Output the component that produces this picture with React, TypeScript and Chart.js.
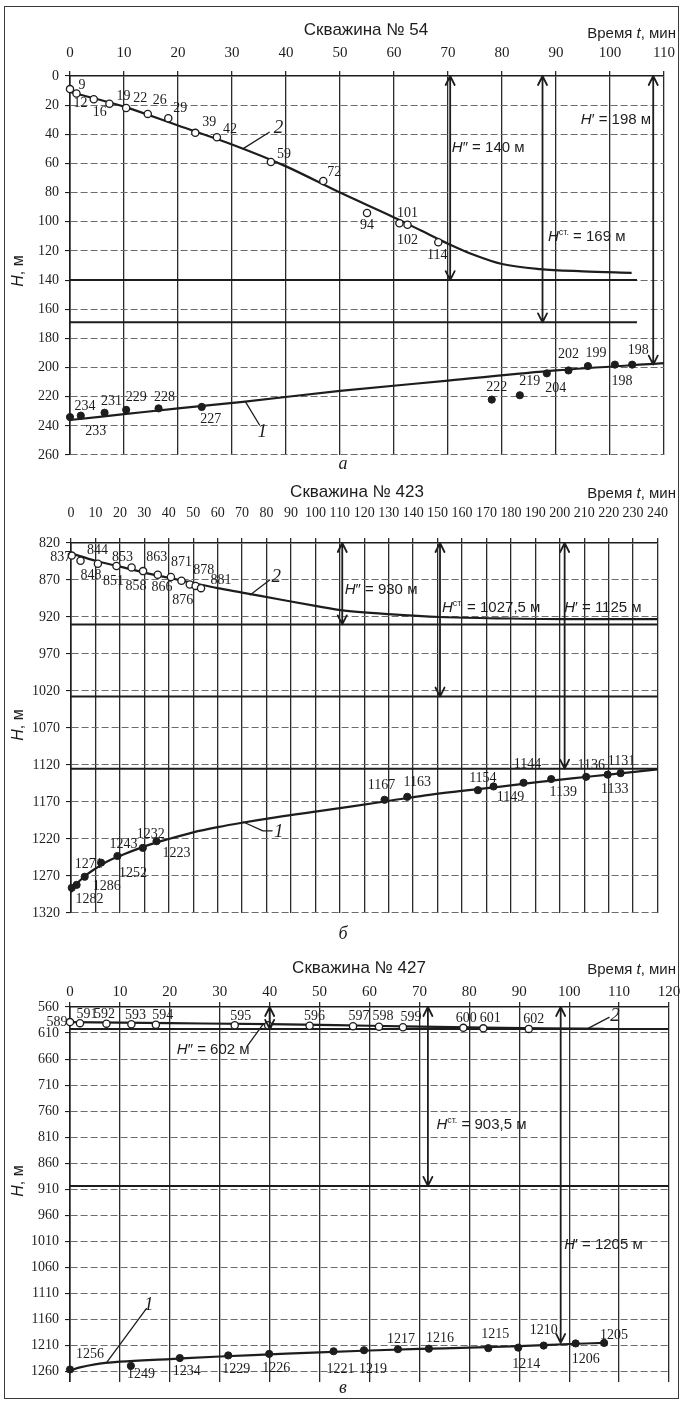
import React, { useEffect, useRef } from "react";
import { Chart, registerables } from "chart.js";

Chart.register(...registerables);

/* ---------------- Скважина № 54 ---------------- */
const w54TimeTicks = [0, 10, 20, 30, 40, 50, 60, 70, 80, 90, 100, 110];
const w54DepthTicks = [0, 20, 40, 60, 80, 100, 120, 140, 160, 180, 200, 220, 240, 260];
// curve 2 — open circles and the fitted line
const w54Obs2T = [0, 1.2, 4.4, 7.3, 10.4, 14.4, 18.2, 23.2, 27.2, 37.2, 46.9, 55, 61, 62.5, 68.2];
const w54Obs2H = [9, 12, 16, 19, 22, 26, 29, 39, 42, 59, 72, 94, 101, 102, 114];
const w54Fit2T = [0, 10, 20, 30, 40, 50, 60, 65, 70, 75, 80, 87, 95, 104];
const w54Fit2H = [11, 21, 34, 47, 62, 80, 97, 106, 115, 123, 129, 132.5, 134, 135];
// curve 1 — filled dots and the fitted line
const w54Obs1T = [0, 2, 6.4, 10.4, 16.4, 24.4, 78.1, 83.3, 88.3, 92.3, 95.9, 100.9, 104.1];
const w54Obs1H = [234, 233, 231, 229, 228, 227, 222, 219, 204, 202, 199, 198, 198];
const w54Fit1T = [0, 10, 20, 32, 50, 70, 90, 110];
const w54Fit1H = [236, 232, 228, 223.5, 216, 209, 202, 197];
// H″, Hст
const w54Levels = [140, 169];
// arrows: H″, Hст, H′
const w54ArrowT = [70.4, 87.5, 108];
const w54ArrowH = [140, 169, 198];

/* ---------------- Скважина № 423 ---------------- */
const w423TimeTicks = [0, 10, 20, 30, 40, 50, 60, 70, 80, 90, 100, 110, 120, 130, 140, 150, 160, 170, 180, 190, 200, 210, 220, 230, 240];
const w423DepthTicks = [820, 870, 920, 970, 1020, 1070, 1120, 1170, 1220, 1270, 1320];
const w423Obs2T = [0.3, 3.9, 11, 18.6, 24.8, 29.5, 35.5, 40.9, 45.2, 48.6, 51, 53.2];
const w423Obs2H = [837, 844, 848, 851, 853, 858, 863, 866, 871, 876, 878, 881];
const w423Fit2T = [0, 10, 20, 30, 40, 50, 60, 70, 85, 100, 111, 130, 151, 180, 210, 240];
const w423Fit2H = [834, 844, 852, 860, 867, 874, 881, 887, 896, 905, 911, 916, 920, 922, 923, 923];
const w423Obs1T = [0.3, 2.3, 5.6, 12.3, 19, 29.4, 35, 128.3, 137.6, 166.5, 172.9, 185.2, 196.5, 210.8, 219.6, 224.9];
const w423Obs1H = [1286, 1282, 1271, 1252, 1243, 1232, 1223, 1167, 1163, 1154, 1149, 1144, 1139, 1136, 1133, 1131];
const w423Fit1T = [0, 2, 5, 10, 15, 20, 30, 40, 50, 60, 70, 85, 100, 115, 130, 145, 160, 175, 190, 205, 220, 240];
const w423Fit1H = [1292, 1282, 1272, 1260, 1250, 1243, 1230, 1220, 1211, 1204, 1198, 1190, 1183, 1176, 1168.5, 1161, 1155, 1149.5, 1143.5, 1138, 1133, 1126];
const w423Levels = [930, 1027.5, 1125];
const w423ArrowT = [111, 151, 202];
const w423ArrowH = [930, 1027.5, 1125];

/* ---------------- Скважина № 427 ---------------- */
const w427TimeTicks = [0, 10, 20, 30, 40, 50, 60, 70, 80, 90, 100, 110, 120];
const w427DepthTicks = [560, 610, 660, 710, 760, 810, 860, 910, 960, 1010, 1060, 1110, 1160, 1210, 1260];
const w427Obs2T = [0, 2, 7.3, 12.3, 17.2, 33, 39.7, 48, 56.7, 61.9, 66.7, 78.8, 82.8, 91.9];
const w427Obs2H = [589, 591, 592, 593, 594, 595, 595, 596, 597, 598, 599, 600, 601, 602];
const w427Fit2T = [0, 20, 40, 60, 80, 95, 107];
const w427Fit2H = [589, 591, 593, 596, 599, 601, 602];
const w427Obs1T = [0, 12.2, 22, 31.7, 39.9, 52.8, 58.9, 65.7, 71.9, 83.8, 89.8, 94.9, 101.3, 107];
const w427Obs1H = [1256, 1249, 1234, 1229, 1226, 1221, 1219, 1217, 1216, 1215, 1214, 1210, 1206, 1205];
const w427Fit1T = [0, 2, 5, 10, 20, 30, 40, 50, 60, 70, 80, 90, 100, 107];
const w427Fit1H = [1258, 1252, 1246, 1241, 1236, 1231, 1227, 1223, 1219.5, 1216.5, 1214, 1211, 1207, 1205];
const w427Levels = [602, 903.5];
const w427ArrowT = [40, 71.7, 98.3];
const w427ArrowH = [602, 903.5, 1205];

/* ---------------- drawing helpers ---------------- */
type Seg = { s: string; it?: boolean; sup?: boolean };
type TH = [number, number];
type Off = [number, number] | null;

const SANS = '"Liberation Sans", Arial, sans-serif';
const SERIF = '"Liberation Serif", "Times New Roman", serif';
const INK = "#1d1d1d";
const ARROW_KINDS = ["dd", "st", "d"];

function drawSegs(ctx: CanvasRenderingContext2D, segs: Seg[], x: number, y: number, size: number, family: string, align: string) {
  const fontOf = (sg: Seg) => `${sg.it ? "italic " : ""}${sg.sup ? Math.round(size * 0.62) : size}px ${family}`;
  let w = 0;
  for (const sg of segs) {
    ctx.font = fontOf(sg);
    w += ctx.measureText(sg.s).width;
  }
  let cx = align === "left" ? x : align === "center" ? x - w / 2 : x - w;
  ctx.textAlign = "left";
  ctx.textBaseline = "middle";
  ctx.fillStyle = INK;
  for (const sg of segs) {
    ctx.font = fontOf(sg);
    ctx.fillText(sg.s, cx, sg.sup ? y - size * 0.32 : y);
    cx += ctx.measureText(sg.s).width;
  }
}

function levelText(kind: string, v: number): Seg[] {
  const num = String(v).replace(".", ",") + " м";
  if (kind === "dd") return [{ s: "H", it: true }, { s: "″ = " + num }];
  if (kind === "st") return [{ s: "H", it: true }, { s: "ст.", sup: true }, { s: " = " + num }];
  return [{ s: "H", it: true }, { s: "′ = " + num }];
}

function drawArrow(ctx: CanvasRenderingContext2D, x: number, yTop: number, yBot: number) {
  const hw = 4.5;
  const hl = 9;
  ctx.beginPath();
  ctx.moveTo(x, yTop);
  ctx.lineTo(x, yBot);
  ctx.moveTo(x - hw, yTop + hl);
  ctx.lineTo(x, yTop);
  ctx.lineTo(x + hw, yTop + hl);
  ctx.moveTo(x - hw, yBot - hl);
  ctx.lineTo(x, yBot);
  ctx.lineTo(x + hw, yBot - hl);
  ctx.stroke();
}

const pts = (ts: number[], hs: number[]) => ts.map((t, i) => ({ x: t, y: hs[i] }));

/* ---------------- panel layouts ---------------- */
interface Tag { text: string; path: TH[]; at: TH }
interface PanelSpec {
  top: number; height: number;
  left: number; right: number; plotTop: number; plotBottom: number;
  xMax: number; xTicks: number[]; xTickSize: number; xTickPad: number;
  yMin: number; yMax: number; yTicks: number[];
  obs2T: number[]; obs2H: number[]; fit2T: number[]; fit2H: number[];
  obs1T: number[]; obs1H: number[]; fit1T: number[]; fit1H: number[];
  levels: number[]; levelEnd: number;
  arrowT: number[]; arrowH: number[]; arrowLabelAt: TH[];
  obs2Off: Off[]; obs1Off: Off[];
  tags: Tag[]; extraLeaders: TH[][];
  title: string; titleX: number; titleY: number; timeY: number; yTitleY: number;
  caption: string; captionY: number;
}

const PANELS: PanelSpec[] = [
  {
    top: 0, height: 478, left: 70, right: 669, plotTop: 76, plotBottom: 455,
    xMax: 110, xTicks: w54TimeTicks, xTickSize: 15, xTickPad: 9,
    yMin: 0, yMax: 260, yTicks: w54DepthTicks,
    obs2T: w54Obs2T, obs2H: w54Obs2H, fit2T: w54Fit2T, fit2H: w54Fit2H,
    obs1T: w54Obs1T, obs1H: w54Obs1H, fit1T: w54Fit1T, fit1H: w54Fit1H,
    levels: w54Levels, levelEnd: 105,
    arrowT: w54ArrowT, arrowH: w54ArrowH,
    arrowLabelAt: [[70.7, 49.4], [88.5, 110.4], [94.6, 30.2]],
    obs2Off: [[12, -4], [4, 10], [6, 13], [14, -7], [14, -10], [12, -14], [12, -10], [14, -11], [13, -8], [13, -8], [11, -9], [0, 12], [8, -10], [0, 16], [-1, 13]],
    obs1Off: [[15, -11], [15, 16], [7, -11], [10, -12], [6, -11], [9, 12], [5, -12], [10, -14], [9, 15], [0, -16], [8, -13], [7, 17], [6, -14]],
    tags: [
      { text: "2", path: [[32, 50], [36.9, 38.6]], at: [38.6, 35.5] },
      { text: "1", path: [[32.5, 223.5], [35.1, 239.4]], at: [35.6, 244.5] },
    ],
    extraLeaders: [],
    title: "Скважина № 54", titleX: 366, titleY: 30, timeY: 34, yTitleY: 271,
    caption: "а", captionY: 464,
  },
  {
    top: 478, height: 467, left: 71, right: 667, plotTop: 543, plotBottom: 913,
    xMax: 240, xTicks: w423TimeTicks, xTickSize: 14, xTickPad: 16,
    yMin: 820, yMax: 1320, yTicks: w423DepthTicks,
    obs2T: w423Obs2T, obs2H: w423Obs2H, fit2T: w423Fit2T, fit2H: w423Fit2H,
    obs1T: w423Obs1T, obs1H: w423Obs1H, fit1T: w423Fit1T, fit1H: w423Fit1H,
    levels: w423Levels, levelEnd: 240,
    arrowT: w423ArrowT, arrowH: w423ArrowH,
    arrowLabelAt: [[112, 883.5], [151.8, 907.8], [201.8, 907.8]],
    obs2Off: [[-11, 2], [17, -10], [-7, 12], [-3, 15], [-9, -10], [-7, 15], [-1, -17], [-9, 10], [0, -18], [-7, 16], [8, -16], [20, -8]],
    obs1Off: [[35, -2], [13, 14], [4, -12], [32, 11], [6, -12], [8, -14], [20, 12], [-3, -14], [10, -14], [5, -12], [17, 11], [4, -18], [12, 13], [5, -12], [7, 15], [1, -12]],
    tags: [
      { text: "2", path: [[73.4, 890], [81.3, 870]], at: [84, 865.5] },
      { text: "1", path: [[70.5, 1197], [78.5, 1209], [82.3, 1209]], at: [85, 1210] },
    ],
    extraLeaders: [],
    title: "Скважина № 423", titleX: 357, titleY: 492, timeY: 494, yTitleY: 725,
    caption: "б", captionY: 934,
  },
  {
    top: 945, height: 458, left: 70, right: 669, plotTop: 1007, plotBottom: 1382,
    xMax: 120, xTicks: w427TimeTicks, xTickSize: 15, xTickPad: 1,
    yMin: 560, yMax: 1280, yTicks: w427DepthTicks,
    obs2T: w427Obs2T, obs2H: w427Obs2H, fit2T: w427Fit2T, fit2H: w427Fit2H,
    obs1T: w427Obs1T, obs1H: w427Obs1H, fit1T: w427Fit1T, fit1H: w427Fit1H,
    levels: w427Levels, levelEnd: 120,
    arrowT: w427ArrowT, arrowH: w427ArrowH,
    arrowLabelAt: [[21.4, 642.5], [73.4, 786.3], [99, 1016.5]],
    obs2Off: [[-13, 0], [7, -9], [-2, -9], [4, -9], [7, -9], [6, -9], null, [5, -9], [6, -10], [4, -10], [8, -10], [3, -10], [7, -10], [5, -10]],
    obs1Off: [[20, -15], [10, 8], [7, 13], [8, 14], [7, 14], [7, 18], [9, 19], [3, -10], [11, -10], [7, -14], [8, 17], [0, -15], [10, 16], [10, -8]],
    tags: [
      { text: "2", path: [[103.7, 601.5], [108, 580]], at: [109.2, 576.5] },
      { text: "1", path: [[7.4, 1242], [15.3, 1139]], at: [15.8, 1132] },
    ],
    extraLeaders: [[[35.5, 635], [38.7, 593]]],
    title: "Скважина № 427", titleX: 359, titleY: 968, timeY: 970, yTitleY: 1181,
    caption: "в", captionY: 1388,
  },
];

/* ---------------- chart construction ---------------- */
function buildConfig(p: PanelSpec): any {
  const oy = p.top;
  const axisH = 42;
  const annotations = {
    id: "wellAnnotations",
    afterDatasetsDraw(chart: any) {
      const ctx: CanvasRenderingContext2D = chart.ctx;
      const xs = chart.scales.x;
      const ys = chart.scales.y;
      const px = (t: number) => xs.getPixelForValue(t);
      const py = (h: number) => ys.getPixelForValue(h);
      ctx.save();
      ctx.strokeStyle = INK;
      ctx.lineCap = "round";
      ctx.lineJoin = "round";

      // double arrows from the top of the plot to the levels
      ctx.lineWidth = 1.8;
      p.arrowT.forEach((t, i) => drawArrow(ctx, px(t), py(p.yMin), py(p.arrowH[i])));
      p.arrowLabelAt.forEach((a, i) =>
        drawSegs(ctx, levelText(ARROW_KINDS[i], p.arrowH[i]), px(a[0]), py(a[1]), 15, SANS, "left")
      );

      // leaders
      ctx.lineWidth = 1.3;
      const poly = (path: TH[]) => {
        ctx.beginPath();
        path.forEach((q, i) => (i === 0 ? ctx.moveTo(px(q[0]), py(q[1])) : ctx.lineTo(px(q[0]), py(q[1]))));
        ctx.stroke();
      };
      p.extraLeaders.forEach(poly);
      p.tags.forEach((tg) => {
        poly(tg.path);
        ctx.font = `italic 19px ${SERIF}`;
        ctx.fillStyle = INK;
        ctx.textAlign = "center";
        ctx.textBaseline = "middle";
        ctx.fillText(tg.text, px(tg.at[0]), py(tg.at[1]));
      });

      // value labels next to the observation points
      const labelSet = (dsIndex: number, values: number[], offs: Off[]) => {
        const meta = chart.getDatasetMeta(dsIndex);
        ctx.font = `14px ${SERIF}`;
        ctx.fillStyle = INK;
        ctx.textAlign = "center";
        ctx.textBaseline = "middle";
        meta.data.forEach((el: any, i: number) => {
          const o = offs[i];
          if (!o) return;
          ctx.fillText(String(values[i]), el.x + o[0], el.y + o[1]);
        });
      };
      labelSet(0, p.obs2H, p.obs2Off);
      labelSet(1, p.obs1H, p.obs1Off);

      // headings
      drawSegs(ctx, [{ s: p.title }], p.titleX, p.titleY - oy, 17, SANS, "center");
      drawSegs(ctx, [{ s: "Время " }, { s: "t", it: true }, { s: ", мин" }], 676, p.timeY - oy, 15, SANS, "right");
      ctx.save();
      ctx.translate(19, p.yTitleY - oy);
      ctx.rotate(-Math.PI / 2);
      drawSegs(ctx, [{ s: "H", it: true }, { s: ", м" }], 0, 0, 16, SANS, "center");
      ctx.restore();
      drawSegs(ctx, [{ s: p.caption, it: true }], 343, p.captionY - oy, 18, SERIF, "center");
      ctx.restore();
    },
  };

  const levelSets = p.levels.map((h) => ({
    type: "line",
    label: "H = " + h,
    data: [{ x: 0, y: h }, { x: p.levelEnd, y: h }],
    borderColor: INK,
    borderWidth: 2,
    pointRadius: 0,
    order: 2,
    clip: false,
  }));

  return {
    type: "scatter",
    data: {
      datasets: [
        {
          type: "scatter",
          label: "2",
          data: pts(p.obs2T, p.obs2H),
          pointRadius: 3.6,
          pointBackgroundColor: "#ffffff",
          pointBorderColor: INK,
          pointBorderWidth: 1.3,
          order: 0,
          clip: false,
        },
        {
          type: "scatter",
          label: "1",
          data: pts(p.obs1T, p.obs1H),
          pointRadius: 3.6,
          pointBackgroundColor: INK,
          pointBorderColor: INK,
          pointBorderWidth: 1,
          order: 0,
          clip: false,
        },
        {
          type: "line",
          label: "кривая 2",
          data: pts(p.fit2T, p.fit2H),
          borderColor: INK,
          borderWidth: 2.2,
          pointRadius: 0,
          cubicInterpolationMode: "monotone",
          order: 1,
          clip: false,
        },
        {
          type: "line",
          label: "кривая 1",
          data: pts(p.fit1T, p.fit1H),
          borderColor: INK,
          borderWidth: 2.2,
          pointRadius: 0,
          cubicInterpolationMode: "monotone",
          order: 1,
          clip: false,
        },
        ...levelSets,
      ],
    },
    options: {
      responsive: false,
      maintainAspectRatio: false,
      animation: false,
      devicePixelRatio: 1,
      events: [],
      layout: {
        padding: {
          left: 0,
          right: 684 - p.right,
          top: p.plotTop - oy - axisH,
          bottom: oy + p.height - p.plotBottom,
        },
      },
      plugins: {
        legend: { display: false },
        tooltip: { enabled: false },
        title: { display: false },
      },
      scales: {
        x: {
          type: "linear",
          position: "top",
          min: 0,
          max: p.xMax,
          afterBuildTicks: (s: any) => {
            s.ticks = p.xTicks.map((v) => ({ value: v }));
          },
          afterFit: (s: any) => {
            s.height = axisH;
          },
          ticks: {
            font: { family: SERIF, size: p.xTickSize },
            color: INK,
            padding: p.xTickPad,
            maxRotation: 0,
            autoSkip: false,
            callback: (v: any) => String(v),
          },
          grid: { color: "#2a2a2a", lineWidth: 1.3, tickLength: 5 },
          border: { display: true, color: INK, width: 1.6 },
        },
        y: {
          type: "linear",
          reverse: true,
          min: p.yMin,
          max: p.yMax,
          afterBuildTicks: (s: any) => {
            s.ticks = p.yTicks.map((v) => ({ value: v }));
          },
          afterFit: (s: any) => {
            s.width = p.left;
          },
          ticks: {
            font: { family: SERIF, size: 14 },
            color: INK,
            padding: 6,
            autoSkip: false,
            callback: (v: any) => String(v),
          },
          grid: { color: "#6c6c6c", lineWidth: 1.1, tickLength: 5, tickColor: INK },
          border: { display: true, color: INK, width: 1.6, dash: [7, 3] },
        },
      },
    },
    plugins: [annotations],
  };
}

function Panel({ spec }: { spec: PanelSpec }) {
  const ref = useRef<HTMLCanvasElement | null>(null);
  useEffect(() => {
    if (!ref.current) return;
    const chart = new Chart(ref.current, buildConfig(spec));
    return () => chart.destroy();
  }, [spec]);
  return (
    <canvas
      ref={ref}
      width={684}
      height={spec.height}
      style={{ position: "absolute", left: 0, top: spec.top, width: 684, height: spec.height }}
    />
  );
}

export default function App() {
  return (
    <div style={{ position: "absolute", left: 0, top: 0, width: 684, height: 1403, background: "#ffffff", overflow: "hidden" }}>
      <div
        style={{
          position: "absolute",
          left: 4,
          top: 6,
          width: 675,
          height: 1393,
          border: "1.5px solid #3a3a3a",
          boxSizing: "border-box",
        }}
      />
      {PANELS.map((p, i) => (
        <Panel key={i} spec={p} />
      ))}
    </div>
  );
}
